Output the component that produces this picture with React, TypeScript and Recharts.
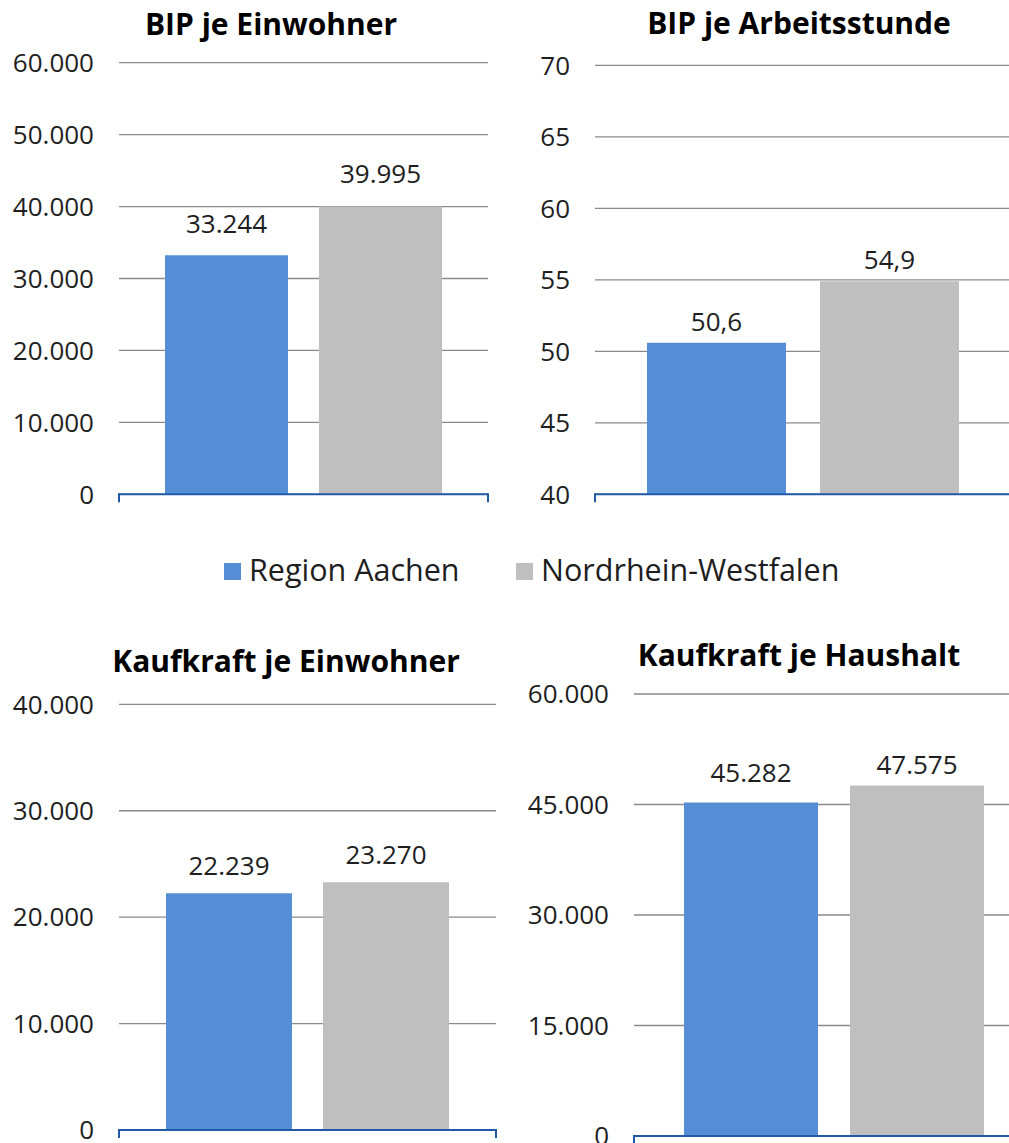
import React from 'react';
import { BarChart, Bar, XAxis, YAxis, CartesianGrid, LabelList } from 'recharts';

// ---------- data ----------
const CATEGORY = ['Wert'];
const PANEL_TITLES = ['BIP je Einwohner', 'BIP je Arbeitsstunde', 'Kaufkraft je Einwohner', 'Kaufkraft je Haushalt'];
const SERIES_NAMES = ['Region Aachen', 'Nordrhein-Westfalen'];
const REGION_AACHEN = [33244, 50.6, 22239, 45282];
const NORDRHEIN_WESTFALEN = [39995, 54.9, 23270, 47575];
const Y_DOMAINS: number[][] = [[0, 60000], [40, 70], [0, 40000], [0, 60000]];
const Y_TICKS: number[][] = [
  [0, 10000, 20000, 30000, 40000, 50000, 60000],
  [40, 45, 50, 55, 60, 65, 70],
  [0, 10000, 20000, 30000, 40000],
  [0, 15000, 30000, 45000, 60000],
];
const DECIMALS = [0, 1, 0, 0];

// ---------- styles ----------
const FONT = '"Open Sans", "Noto Sans", sans-serif';
const BLUE = '#558ed5';
const GRAY = '#bfbfbf';
const AXIS_BLUE = '#2159a6';
const GRID = '#8a8a8a';
const TEXT = '#1e1e1e';
const SERIES_COLORS = [BLUE, GRAY];

const LAYOUT = [
  { box: [0, 0, 505, 520], plot: [119, 488, 62.7, 494.3], bar: 123, gap: 31, title: [271, 35], lbl: [22, 24] },
  { box: [500, 0, 530, 520], plot: [595, 1011, 65.3, 494.3], bar: 139, gap: 34, title: [799, 34], lbl: [12, 12] },
  { box: [0, 620, 505, 523], plot: [119, 496, 704.3, 1130], bar: 126, gap: 31, title: [286, 672], lbl: [18, 18] },
  { box: [505, 620, 540, 523], plot: [634, 1034, 694, 1136], bar: 134, gap: 32, title: [799, 666], lbl: [20, 12] },
];

const LEGEND_LAYOUT = [
  { sq: [224, 563], tx: [249, 581] },
  { sq: [516, 563], tx: [541, 581] },
];

function fmt(v: number, d: number): string {
  const s = Number(v).toFixed(d);
  const [int, dec] = s.split('.');
  const g = int.replace(/\B(?=(\d{3})+(?!\d))/g, '.');
  return dec ? g + ',' + dec : g;
}

// Category-boundary tick marks at both ends of the band (Excel style)
function EdgeTicks(props: any) {
  const { x, y, payload, width } = props;
  const half = payload && typeof payload.offset === 'number' && payload.offset > 0 ? payload.offset : (width || 0) / 2;
  return (
    <g>
      <line x1={x - half} x2={x - half} y1={y - 1} y2={y + 8} stroke={AXIS_BLUE} strokeWidth={2} />
      <line x1={x + half} x2={x + half} y1={y - 1} y2={y + 8} stroke={AXIS_BLUE} strokeWidth={2} />
    </g>
  );
}

function Panel({ i }: { i: number }) {
  const L = LAYOUT[i];
  const [bx, by, bw, bh] = L.box;
  const [pl, pr, pt, pb] = L.plot;
  const AXIS_H = 8;
  const margin = { top: pt - by, right: bx + bw - pr, bottom: by + bh - pb - AXIS_H, left: 0 };
  const data = CATEGORY.map((c) => ({ name: c, aachen: REGION_AACHEN[i], nrw: NORDRHEIN_WESTFALEN[i] }));
  const labelProps = { fill: TEXT, fontSize: 26, fontFamily: FONT };
  return (
    <div style={{ position: 'absolute', left: bx, top: by }}>
      <BarChart width={bw} height={bh} data={data} margin={margin} barGap={L.gap} barSize={L.bar}>
        <CartesianGrid vertical={false} stroke={GRID} strokeWidth={1.3} />
        <YAxis
          width={pl - bx}
          domain={Y_DOMAINS[i]}
          ticks={Y_TICKS[i]}
          interval={0}
          axisLine={false}
          tickLine={false}
          tickSize={0}
          tickMargin={25}
          tick={{ fill: TEXT, fontSize: 26, fontFamily: FONT }}
          tickFormatter={(v: number) => fmt(v, DECIMALS[i] && v % 1 !== 0 ? DECIMALS[i] : 0)}
          allowDataOverflow
        />
        <Bar dataKey="aachen" name={SERIES_NAMES[0]} fill={BLUE} isAnimationActive={false}>
          <LabelList dataKey="aachen" position="top" offset={L.lbl[0]} formatter={(v: any) => fmt(v, DECIMALS[i])} {...labelProps} />
        </Bar>
        <Bar dataKey="nrw" name={SERIES_NAMES[1]} fill={GRAY} isAnimationActive={false}>
          <LabelList dataKey="nrw" position="top" offset={L.lbl[1]} formatter={(v: any) => fmt(v, DECIMALS[i])} {...labelProps} />
        </Bar>
        <XAxis
          dataKey="name"
          type="category"
          height={AXIS_H}
          tickSize={0}
          tickMargin={0}
          tickLine={false}
          interval={0}
          axisLine={{ stroke: AXIS_BLUE, strokeWidth: 2 }}
          tick={<EdgeTicks />}
        />
      </BarChart>
    </div>
  );
}

export default function App() {
  return (
    <div style={{ position: 'absolute', left: 0, top: 0, width: 1009, height: 1143, overflow: 'hidden', background: '#fff' }}>
      {PANEL_TITLES.map((_, i) => (
        <Panel key={i} i={i} />
      ))}
      <svg width={1009} height={1143} style={{ position: 'absolute', left: 0, top: 0, pointerEvents: 'none' }}>
        {PANEL_TITLES.map((t, i) => (
          <text key={t} x={LAYOUT[i].title[0]} y={LAYOUT[i].title[1]} textAnchor="middle" fontFamily={FONT} fontWeight={700} fontSize={30} fill="#000">
            {t}
          </text>
        ))}
        {SERIES_NAMES.map((n, k) => (
          <g key={n}>
            <rect x={LEGEND_LAYOUT[k].sq[0]} y={LEGEND_LAYOUT[k].sq[1]} width={17} height={17} fill={SERIES_COLORS[k]} />
            <text x={LEGEND_LAYOUT[k].tx[0]} y={LEGEND_LAYOUT[k].tx[1]} fontFamily={FONT} fontSize={30.5} fill={TEXT}>
              {n}
            </text>
          </g>
        ))}
      </svg>
    </div>
  );
}
